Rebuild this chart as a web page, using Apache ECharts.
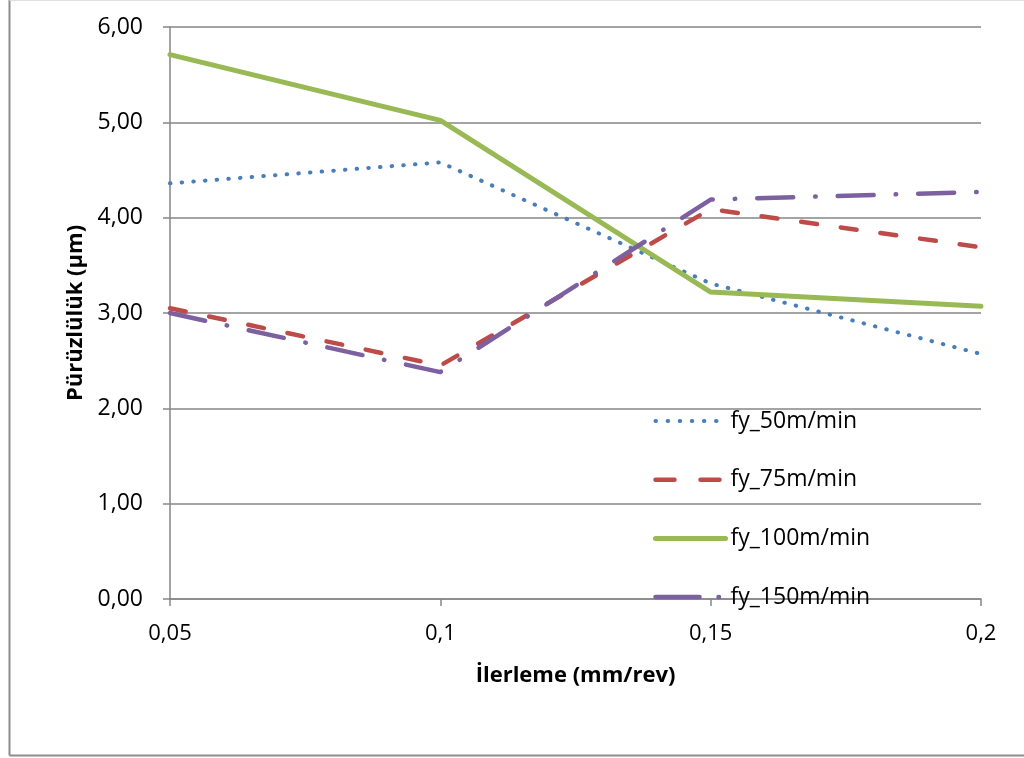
<!DOCTYPE html>
<html>
<head>
<meta charset="utf-8">
<script src="https://cdn.jsdelivr.net/npm/echarts@6/dist/echarts.min.js"></script>
<style>
html,body{margin:0;padding:0;background:#fff;}
#c{width:1024px;height:758px;}
</style>
</head>
<body>
<div id="c"></div>
<script>
const categories = ['0,05', '0,1', '0,15', '0,2'];
const fy50 = [4.36, 4.58, 3.31, 2.57];
const fy75 = [3.05, 2.45, 4.09, 3.69];
const fy100 = [5.71, 5.02, 3.22, 3.07];
const fy150 = [3.00, 2.38, 4.19, 4.27];
const seriesNames = ['fy_50m/min', 'fy_75m/min', 'fy_100m/min', 'fy_150m/min'];
const yTicks = [0, 1, 2, 3, 4, 5, 6];

const colors = ['#4a7ebb', '#be4b48', '#98b954', '#7d60a0'];
const widths = [4, 4.5, 5, 4.5];
const dashes = [[0.5, 11.2], [16, 24], 'solid', [36, 22, 0.5, 22]];
const legendDashes = [[0.5, 11.6], [19, 26], 'solid', [44, 19, 0.5, 20]];

const font = '"Open Sans", "Noto Sans", sans-serif';
const chart = echarts.init(document.getElementById('c'), null, {renderer: 'canvas'});
const mk = (i, data) => ({
  name: seriesNames[i], type: 'line', data, symbol: 'none', showSymbol: false,
  lineStyle: {color: colors[i], width: widths[i], type: dashes[i], cap: 'round', join: 'round'},
  itemStyle: {color: colors[i]},
  z: 3
});
chart.setOption({
  animation: false,
  backgroundColor: '#fff',
  textStyle: {fontFamily: font},
  graphic: [
    {type: 'line', shape: {x1: 9.5, y1: 0, x2: 9.5, y2: 755.5}, style: {stroke: '#8c8c8c', lineWidth: 2}},
    {type: 'line', shape: {x1: 9.5, y1: 755.5, x2: 1024, y2: 755.5}, style: {stroke: '#8c8c8c', lineWidth: 2}},
    {type: 'line', shape: {x1: 9.5, y1: 0.5, x2: 1024, y2: 0.5}, style: {stroke: '#e0e0e0', lineWidth: 1}}
  ],
  grid: {left: 170, right: 43, top: 27, bottom: 159, containLabel: false},
  legend: {
    orient: 'vertical', left: 648, top: 404,
    itemWidth: 70, itemHeight: 14, itemGap: 34.7,
    itemStyle: {opacity: 0},
    textStyle: {fontSize: 23, lineHeight: 24, color: '#000', fontFamily: font},
    data: seriesNames.map((n, i) => ({
      name: n,
      lineStyle: {color: colors[i], width: widths[i], type: legendDashes[i], cap: 'round'}
    }))
  },
  xAxis: {
    type: 'category', data: categories, boundaryGap: false,
    name: 'İlerleme (mm/rev)', nameLocation: 'middle', nameGap: 66,
    nameTextStyle: {fontSize: 22, fontWeight: 'bold', color: '#000'},
    axisLine: {lineStyle: {color: '#868686', width: 1.5}},
    axisTick: {show: true, length: 7, lineStyle: {color: '#868686', width: 1.5}},
    axisLabel: {fontSize: 22, color: '#000', margin: 24}
  },
  yAxis: {
    type: 'value', min: 0, max: 6, interval: 1,
    name: 'Pürüzlülük (µm)', nameLocation: 'middle', nameGap: 82, nameRotate: 90,
    nameTextStyle: {fontSize: 22, fontWeight: 'bold', color: '#000'},
    axisLine: {show: true, lineStyle: {color: '#868686', width: 1.5}},
    axisTick: {show: true, length: 7, lineStyle: {color: '#868686', width: 1.5}},
    splitLine: {show: true, lineStyle: {color: '#868686', width: 1.5}},
    axisLabel: {fontSize: 23, color: '#000', margin: 27,
      formatter: v => yTicks.includes(v) ? v.toFixed(2).replace('.', ',') : ''}
  },
  series: [
    mk(0, fy50),
    mk(1, fy75),
    mk(2, fy100),
    mk(3, fy150)
  ]
});
</script>
</body>
</html>
